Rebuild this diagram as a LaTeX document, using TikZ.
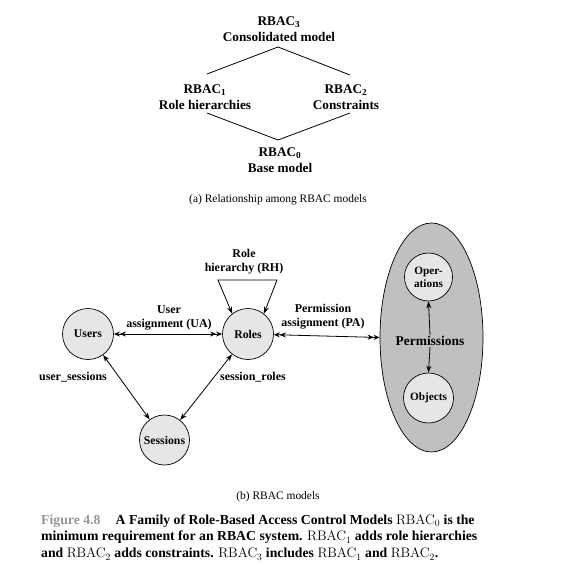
\documentclass[tikz,border=0pt]{standalone}
\usepackage{fontspec}
\setmainfont{Liberation Serif}
\newfontfamily\lmr{Latin Modern Roman}
\usetikzlibrary{arrows.meta,shapes.geometric}
\definecolor{circfill}{RGB}{230,230,230}
\definecolor{ellfill}{RGB}{192,192,192}
\definecolor{figgray}{RGB}{150,150,150}
\tikzset{
  x=1bp, y=-1bp,
  lvl/.style={font=\fontsize{13.3}{15.5}\selectfont\bfseries, align=center, inner sep=1pt},
  lab/.style={font=\fontsize{12}{14}\selectfont\bfseries, align=center, inner sep=1pt},
  captext/.style={font=\fontsize{11.5}{14}\selectfont, inner sep=1pt},
  ent/.style={circle, draw, fill=circfill, line width=0.7pt, minimum size=51bp, inner sep=0pt,
              font=\fontsize{11.8}{13}\selectfont\bfseries, align=center},
  dtip/.style={Stealth[length=6bp,width=5bp]},
  stip/.style={Stealth[length=7bp,width=5bp]},
  dbl/.style={line width=0.8pt, {Stealth[length=6bp,width=5bp]Stealth[length=6bp,width=5bp]}-{Stealth[length=6bp,width=5bp]Stealth[length=6bp,width=5bp]}},
  sgl/.style={line width=0.8pt, {Stealth[length=7bp,width=5bp]}-{Stealth[length=7bp,width=5bp]}},
  one/.style={line width=0.8pt, -{Stealth[length=7bp,width=5bp]}},
  hasse/.style={line width=0.8pt}
}
\begin{document}
\begin{tikzpicture}
\useasboundingbox (0,0) rectangle (581,579);
% ---------- (a) ----------
\node[lvl] (r3) at (279,29) {RBAC\textsubscript{3}\\Consolidated model};
\node[lvl] (r1) at (205,97) {RBAC\textsubscript{1}\\Role hierarchies};
\node[lvl] (r2) at (346,97) {RBAC\textsubscript{2}\\Constraints};
\node[lvl] (r0) at (280,160) {RBAC\textsubscript{0}\\Base model};
\coordinate (a3) at (278,47);
\coordinate (a1) at (207,74);
\coordinate (a2) at (350,75);
\coordinate (b1) at (207,113);
\coordinate (b2) at (350,113);
\coordinate (b0) at (278,140);
\draw[hasse] (a1) -- (a3) -- (a2);
\draw[hasse] (b1) -- (b0) -- (b2);
\node[captext] (capa) at (278,200) {(a) Relationship among RBAC models};
% ---------- (b) ----------
\node[ellipse, draw, fill=ellfill, line width=0.7pt, minimum width=103bp, minimum height=229bp, inner sep=0pt] (perms) at (431.5,337.5) {};
\node[ent] (users) at (88,334) {Users};
\node[ent] (roles) at (248,334) {Roles};
\node[ent, minimum size=50bp] (sessions) at (164.5,440) {Sessions};
\node[ent, minimum size=48bp, font=\fontsize{11.3}{13}\selectfont\bfseries] (ops) at (428.5,277) {Oper-\\ations};
\node[ent, minimum size=50bp, font=\fontsize{11.3}{13}\selectfont\bfseries] (objs) at (428.5,398) {Objects};
\node[font=\fontsize{13.5}{16}\selectfont\bfseries, inner sep=1pt] (ptext) at (430,341) {Permissions};
% connectors
\draw[dbl] (users) -- (roles);
\draw[dbl] (roles) -- (perms.west);
\draw[sgl] (users) -- (sessions);
\draw[sgl] (sessions) -- (roles);
\coordinate (rhl) at (218,280);
\coordinate (rhr) at (277,280);
\draw[sgl] (roles.128) -- (rhl) -- (rhr) -- (roles.52);
\draw[one] (ptext.north) -- (ops.south);
\draw[one] (ptext.south) -- (objs.north);
% labels
\node[lab] (rhlab) at (244,262) {Role\\hierarchy (RH)};
\node[lab] (ualab) at (169,318) {User\\assignment (UA)};
\node[lab] (palab) at (323,317) {Permission\\assignment (PA)};
\node[lab] (uslab) at (73,377) {user\_sessions};
\node[lab] (srlab) at (253,377) {session\_roles};
\node[captext] (capb) at (278,497) {(b) RBAC models};
% ---------- figure caption ----------
\node[anchor=north west, align=left, inner sep=0pt, font=\fontsize{13.8}{17}\selectfont\bfseries] (figcap) at (41,514)
{{\color{figgray}Figure 4.8}\hspace{1.1em}A Family of Role-Based Access Control Models {\lmr\mdseries RBAC\textsubscript{0}} is the\\
minimum requirement for an RBAC system. {\lmr\mdseries RBAC\textsubscript{1}} adds role hierarchies\\
and {\lmr\mdseries RBAC\textsubscript{2}} adds constraints. {\lmr\mdseries RBAC\textsubscript{3}} includes {\lmr\mdseries RBAC\textsubscript{1}} and {\lmr\mdseries RBAC\textsubscript{2}}.};
\end{tikzpicture}
\end{document}
